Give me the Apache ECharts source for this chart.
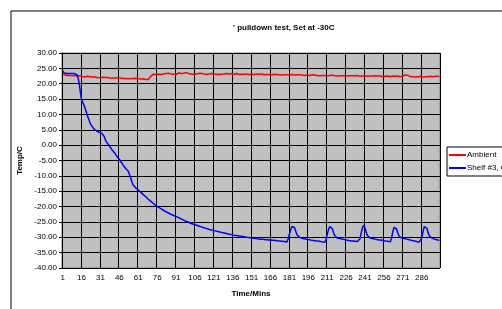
<!DOCTYPE html>
<html>
<head>
<meta charset="utf-8">
<script src="https://cdn.jsdelivr.net/npm/echarts@6/dist/echarts.min.js"></script>
<style>
  html, body { margin: 0; padding: 0; background: #fff; }
  #chart { width: 502px; height: 309px; }
</style>
</head>
<body>
<div id="chart"></div>
<script>
// minutes 1..300
var minutes = []
for (var m = 1; m <= 300; m++) minutes.push(String(m))

var yTicks = [-40, -35, -30, -25, -20, -15, -10, -5, 0, 5, 10, 15, 20, 25, 30]

var ambient = [
  23.3, 23.0, 22.8, 22.8, 22.7, 22.9, 22.7, 22.8, 22.6, 22.7, 22.6, 22.5, 22.6, 22.4, 22.5,
  22.4, 22.3, 22.5, 22.3, 22.2, 22.4, 22.2, 22.3, 22.1, 22.2, 22.0, 22.2, 22.1, 21.9, 22.1,
  22.0, 21.9, 22.1, 21.9, 22.0, 21.8, 22.0, 21.9, 21.8, 22.0, 21.9, 21.8, 21.9, 21.8, 21.9,
  21.7, 21.9, 21.8, 21.7, 21.8, 21.7, 21.8, 21.6, 21.8, 21.7, 21.6, 21.7, 21.6, 21.8, 21.6,
  21.7, 21.6, 21.5, 21.7, 21.6, 21.5, 21.4, 21.3, 21.4, 21.9, 22.4, 22.8, 23.1, 23.3, 23.0,
  23.4, 23.1, 23.3, 23.0, 23.5, 23.2, 23.0, 23.3, 23.1, 23.4, 23.0, 23.2, 23.6, 23.1, 23.3,
  23.0, 23.2, 23.5, 23.1, 23.3, 23.0, 23.4, 23.2, 23.6, 23.1, 23.3, 23.0, 23.2, 23.4, 23.1,
  23.6, 23.2, 23.0, 23.3, 23.1, 23.4, 23.0, 23.2, 23.3, 23.1, 23.5, 23.2, 23.0, 23.3, 23.1,
  23.2, 23.4, 23.0, 23.3, 23.1, 23.2, 23.0, 23.4, 23.2, 23.1, 23.3, 23.0, 23.2, 23.1, 23.3,
  23.2, 23.0, 23.1, 23.3, 23.2, 23.0, 23.2, 23.1, 23.3, 23.1, 23.0, 23.2, 23.1, 23.0, 23.2,
  23.1, 23.2, 23.0, 23.1, 23.2, 23.0, 23.1, 23.0, 23.2, 23.1, 22.9, 23.1, 23.0, 23.2, 23.0,
  23.1, 22.9, 23.0, 23.1, 22.9, 23.0, 23.1, 22.9, 23.0, 22.8, 23.0, 22.9, 23.1, 22.9, 23.0,
  22.9, 22.8, 23.0, 22.9, 22.8, 23.0, 22.9, 22.8, 22.9, 23.0, 22.8, 22.9, 22.7, 22.9, 22.8,
  22.9, 22.7, 22.8, 22.9, 22.7, 22.8, 22.9, 22.7, 22.8, 22.6, 22.8, 22.7, 22.9, 22.7, 22.8,
  22.6, 22.8, 22.7, 22.6, 22.8, 22.7, 22.6, 22.7, 22.5, 22.7, 22.6, 22.8, 22.6, 22.5, 22.7,
  22.6, 22.5, 22.7, 22.6, 22.5, 22.6, 22.4, 22.6, 22.5, 22.7, 22.5, 22.4, 22.6, 22.5, 22.4,
  22.6, 22.5, 22.4, 22.6, 22.5, 22.3, 22.5, 22.4, 22.6, 22.4, 22.5, 22.3, 22.5, 22.4, 22.3,
  22.5, 22.4, 22.3, 22.5, 22.4, 22.3, 22.4, 22.5, 22.3, 22.4, 22.3, 22.5, 22.4, 22.3, 22.4,
  22.5, 22.6, 22.9, 23.4, 22.7, 22.4, 22.3, 22.4, 22.3, 22.4, 22.2, 22.4, 22.3, 22.2, 22.4,
  22.3, 22.2, 22.4, 22.3, 22.2, 22.3, 22.2, 22.4, 22.2, 22.3, 22.3, 22.4, 23.0, 22.4, 22.3
]

var shelf3 = [
  24.3, 23.6, 23.3, 23.3, 23.3, 23.3, 23.3, 23.3, 23.3, 23.3, 23.2, 23.0, 22.3, 20.5, 17.5,
  14.8, 14.2, 13.0, 11.8, 10.5, 9.2, 8.2, 7.0, 6.3, 5.8, 5.2, 4.8, 4.6, 4.4, 4.2,
  4.0, 3.9, 3.8, 2.8, 1.6, 0.9, 0.3, -0.2, -0.8, -1.4, -2.0, -2.4, -3.0, -3.6, -4.1,
  -4.6, -5.2, -5.8, -6.5, -7.0, -7.6, -8.0, -8.4, -9.5, -10.6, -12.0, -13.0, -13.5, -13.9, -14.3,
  -14.6, -14.9, -15.3, -15.7, -16.1, -16.5, -16.8, -17.2, -17.6, -18.0, -18.3, -18.6, -19.0, -19.3, -19.6,
  -19.9, -20.2, -20.4, -20.7, -21.0, -21.2, -21.4, -21.7, -21.9, -22.1, -22.3, -22.5, -22.7, -22.9, -23.0,
  -23.2, -23.4, -23.6, -23.8, -24.0, -24.2, -24.4, -24.6, -24.8, -25.0, -25.1, -25.3, -25.5, -25.7, -25.8,
  -25.9, -26.0, -26.2, -26.3, -26.5, -26.6, -26.8, -26.9, -27.0, -27.1, -27.2, -27.4, -27.5, -27.6, -27.7,
  -27.8, -27.9, -28.0, -28.1, -28.2, -28.3, -28.4, -28.5, -28.6, -28.7, -28.8, -28.9, -29.0, -29.0, -29.1,
  -29.2, -29.3, -29.3, -29.4, -29.5, -29.6, -29.6, -29.7, -29.8, -29.8, -29.9, -30.0, -30.0, -30.1, -30.2,
  -30.2, -30.3, -30.3, -30.4, -30.4, -30.5, -30.6, -30.6, -30.6, -30.7, -30.7, -30.8, -30.8, -30.8, -30.9,
  -30.9, -31.0, -31.0, -31.0, -31.1, -31.1, -31.2, -31.2, -31.2, -31.3, -31.3, -31.4, -31.4, -31.5, -30.5,
  -29.0, -27.5, -26.5, -26.1, -26.8, -28.0, -29.2, -29.8, -30.0, -30.2, -30.3, -30.4, -30.5, -30.6, -30.7,
  -30.8, -30.8, -30.9, -31.0, -31.0, -31.1, -31.2, -31.2, -31.3, -31.3, -31.4, -31.5, -31.5, -31.6, -30.8,
  -29.0, -27.5, -26.5, -26.3, -27.2, -28.5, -29.5, -30.0, -30.2, -30.3, -30.4, -30.5, -30.6, -30.7, -30.8,
  -30.9, -31.0, -31.0, -31.1, -31.2, -31.2, -31.3, -31.3, -31.4, -31.4, -31.4, -30.5, -28.5, -26.8, -26.1,
  -27.0, -28.4, -29.5, -30.0, -30.2, -30.3, -30.4, -30.5, -30.6, -30.7, -30.8, -30.8, -30.9, -31.0, -31.0,
  -31.1, -31.2, -31.2, -31.3, -31.4, -31.5, -30.3, -28.3, -26.8, -26.3, -27.3, -28.6, -29.6, -30.0, -30.2,
  -30.3, -30.4, -30.5, -30.6, -30.7, -30.8, -30.9, -31.0, -31.1, -31.2, -31.3, -31.4, -31.5, -31.6, -31.7,
  -30.3, -28.2, -26.5, -26.1, -27.0, -28.4, -29.5, -30.0, -30.2, -30.4, -30.6, -30.7, -30.8, -30.9, -31.0
]

var chart = echarts.init(document.getElementById('chart'))
var font = 'Liberation Sans, Arial, sans-serif'

var option = {
  animation: false,
  backgroundColor: '#fff',
  textStyle: { fontFamily: font },
  title: {
    text: '\' pulldown test, Set at -30C',
    left: 228,
    top: 19,
    textStyle: { fontSize: 8, fontWeight: 'bold', color: '#000', fontFamily: font }
  },
  graphic: [
    {
      type: 'rect',
      shape: { x: 11, y: 11, width: 600, height: 400 },
      style: { fill: 'none', stroke: '#000', lineWidth: 1 },
      silent: true
    }
  ],
  legend: {
    orient: 'vertical',
    left: 447,
    top: 147,
    padding: [4, 30, 4, 2],
    itemGap: 5,
    itemWidth: 17,
    itemHeight: 2,
    icon: 'rect',
    borderColor: '#000',
    borderWidth: 1,
    backgroundColor: '#fff',
    borderRadius: 0,
    textStyle: { fontSize: 8, color: '#000', fontFamily: font, padding: [0, 0, 0, -4] },
    data: ['Ambient', 'Shelf #3, Centre']
  },
  grid: {
    left: 62,
    right: 62,
    top: 53,
    bottom: 41,
    show: true,
    backgroundColor: '#c0c0c0',
    borderColor: '#808080',
    borderWidth: 1
  },
  xAxis: {
    type: 'category',
    data: minutes,
    boundaryGap: true,
    name: 'Time/Mins',
    nameLocation: 'middle',
    nameGap: 22,
    nameTextStyle: { fontSize: 8, fontWeight: 'bold', color: '#000' },
    axisLine: { lineStyle: { color: '#000', width: 1 } },
    axisTick: { interval: 14, length: 3, lineStyle: { color: '#000' } },
    axisLabel: { interval: 14, fontSize: 8, color: '#000', margin: 6 },
    splitLine: { show: true, interval: 14, lineStyle: { color: '#000', width: 1 } }
  },
  yAxis: {
    type: 'value',
    min: yTicks[0],
    max: yTicks[yTicks.length - 1],
    interval: 5,
    name: 'Temp/C',
    nameLocation: 'middle',
    nameRotate: 90,
    nameGap: 33,
    nameTextStyle: { fontSize: 8, fontWeight: 'bold', color: '#000' },
    axisLine: { show: true, lineStyle: { color: '#000', width: 1 } },
    axisTick: { show: true, length: 3, lineStyle: { color: '#000' } },
    axisLabel: {
      fontSize: 8,
      color: '#000',
      margin: 5,
      formatter: function (v) { return v.toFixed(2) }
    },
    splitLine: { show: true, lineStyle: { color: '#000', width: 1 } }
  },
  series: [
    {
      name: 'Ambient',
      type: 'line',
      data: ambient,
      symbol: 'none',
      color: '#ff0000',
      lineStyle: { color: '#ff0000', width: 1.5 }
    },
    {
      name: 'Shelf #3, Centre',
      type: 'line',
      data: shelf3,
      symbol: 'none',
      color: '#0000ff',
      lineStyle: { color: '#0000ff', width: 1.5 }
    }
  ]
}

option && chart.setOption(option)
</script>
</body>
</html>
